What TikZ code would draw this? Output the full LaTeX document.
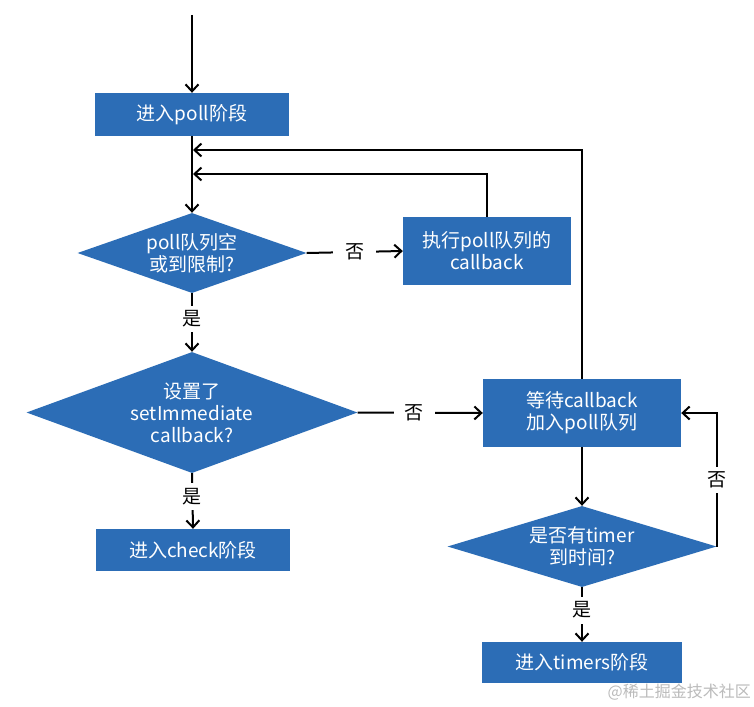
\documentclass[tikz,border=0pt]{standalone}
\usepackage{fontspec}
\setmainfont{Noto Sans CJK SC}
\usetikzlibrary{shapes.geometric,arrows.meta}
\definecolor{boxblue}{HTML}{2C6DB6}
\definecolor{wm}{HTML}{BBBBBB}
\tikzset{
  blk/.style={fill=boxblue, text=white, font=\fontsize{19}{22}\selectfont, align=center, inner sep=0pt},
  procbox/.style={blk, rectangle, minimum width=194pt, minimum height=43pt},
  decide/.style={blk, diamond},
  flow/.style={line width=2pt, draw=black},
  arr/.style={flow, -{Straight Barb[length=7pt,width=13pt,line width=2pt]}},
  lbl/.style={fill=white, font=\fontsize{19}{22}\selectfont, inner xsep=9pt, inner ysep=5pt}
}
\begin{document}
\begin{tikzpicture}[x=1pt,y=-1pt]
\useasboundingbox (0,0) rectangle (754,706);
\fill[white] (0,0) rectangle (754,706);

\node[procbox] (b1) at (192,114.5) {进入poll阶段};
\node[decide, minimum width=229pt, minimum height=80pt, aspect=2.86] (d1) at (192,253) {poll队列空\\或到限制?};
\node[procbox, minimum width=168pt, minimum height=68pt] (b2) at (487,251) {执行poll队列的\\callback};
\node[decide, minimum width=331pt, minimum height=121pt, aspect=2.74] (d2) at (192,412.5) {设置了\\setImmediate\\callback?};
\node[procbox, minimum width=198pt, minimum height=68pt] (b3) at (582,413) {等待callback\\加入poll队列};
\node[procbox, minimum width=194pt, minimum height=42pt] (b4) at (193,550) {进入check阶段};
\node[decide, minimum width=269pt, minimum height=81pt, aspect=3.3] (d3) at (582,546.5) {是否有timer\\到时间?};
\node[procbox, minimum width=200pt, minimum height=41pt] (b5) at (582,662.5) {进入timers阶段};

\node[font=\fontsize{16}{18}\selectfont, text=wm, anchor=east, inner sep=0pt] (wmk) at (751,692) {@稀土掘金技术社区};

\coordinate (start) at (192,15);
\coordinate (j1) at (193,150);
\coordinate (j2) at (193,174);

\draw[arr] (start) -- (b1.north);
\draw[arr] (b1.south) -- (d1.north);
\draw[arr] (d1.east) -- node[lbl, inner xsep=12pt] {否} (b2.west);
\draw[arr] (b2.north) |- (j2);
\draw[arr] (b3.north) |- (j1);
\draw[arr] (d1.south) -- node[lbl, pos=0.44] {是} (d2.north);
\draw[arr] (d2.east) -- node[lbl, pos=0.45, inner xsep=11pt] {否} (b3.west);
\draw[arr] (d2.south) -- node[lbl, pos=0.42] {是} (b4.north);
\draw[arr] (b3.south) -- (d3.north);
\draw[arr] (d3.south) -- node[lbl, pos=0.42] {是} (b5.north);
\draw[arr] (d3.east) -- node[lbl, inner xsep=4pt, inner ysep=5pt] {否} (d3.east |- b3.east) -- (b3.east);
\end{tikzpicture}
\end{document}
